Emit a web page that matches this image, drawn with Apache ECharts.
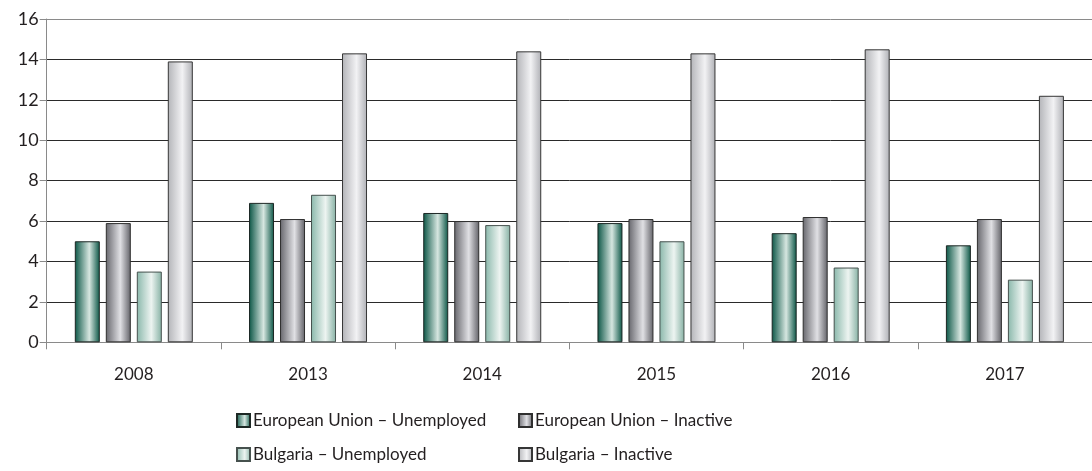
<!DOCTYPE html>
<html>
<head>
<meta charset="utf-8">
<style>
  html, body { margin: 0; padding: 0; background: #fff; }
  #chart { width: 1092px; height: 471px; }
</style>
<script src="https://cdn.jsdelivr.net/npm/echarts@6/dist/echarts.min.js"></script>
</head>
<body>
<div id="chart"></div>
<script>
// Shares by year, in percent
const years = ['2008', '2013', '2014', '2015', '2016', '2017'];
const euUnemployed = [5.0, 6.9, 6.4, 5.9, 5.4, 4.8];
const euInactive = [5.9, 6.1, 6.0, 6.1, 6.2, 6.1];
const bgUnemployed = [3.5, 7.3, 5.8, 5.0, 3.7, 3.1];
const bgInactive = [13.9, 14.3, 14.4, 14.3, 14.5, 12.2];
const seriesNames = [
  'European Union – Unemployed',
  'European Union – Inactive',
  'Bulgaria – Unemployed',
  'Bulgaria – Inactive'
];

const FONT = 'Lato, "Open Sans", sans-serif';

// Cylinder-like horizontal shading for each bar
function shade(edge, light, edge2) {
  return {
    type: 'linear', x: 0, y: 0, x2: 1, y2: 0,
    colorStops: [
      { offset: 0, color: edge },
      { offset: 0.58, color: light },
      { offset: 1, color: edge2 }
    ]
  };
}

const fills = [
  shade('#0a5545', '#d6e6e0', '#0a5545'),
  shade('#66666c', '#e0e0e4', '#616167'),
  shade('#8ab8ab', '#edf4f1', '#86b1a4'),
  shade('#b3b4b8', '#f2f2f4', '#afb0b5')
];
const borders = ['#1c2724', '#2f2f2f', '#46514e', '#363636'];
const values = [euUnemployed, euInactive, bgUnemployed, bgInactive];

const chart = echarts.init(document.getElementById('chart'), null, { renderer: 'canvas' });

const legendPos = [
  { left: 236, top: 412 },
  { left: 518, top: 412 },
  { left: 236, top: 446 },
  { left: 518, top: 446 }
];

chart.setOption({
  animation: false,
  backgroundColor: '#ffffff',
  grid: { left: 46.7, right: -5, top: 19, bottom: 128.7, containLabel: false },
  legend: seriesNames.map((n, i) => ({
    data: [n],
    left: legendPos[i].left,
    top: legendPos[i].top,
    itemWidth: 13,
    itemHeight: 13,
    itemGap: 0,
    icon: 'rect',
    padding: 0,
    textStyle: { fontFamily: FONT, fontSize: 17, color: '#231f20', padding: [0, 0, 0, -2] }
  })),
  xAxis: {
    type: 'category',
    data: years,
    axisLine: { lineStyle: { color: '#8a8a8a', width: 1 } },
    axisTick: { show: true, length: 7, lineStyle: { color: '#8a8a8a' } },
    axisLabel: { fontFamily: FONT, fontSize: 17, color: '#231f20', margin: 24 }
  },
  yAxis: {
    type: 'value',
    min: 0, max: 16, interval: 2,
    axisLine: { show: true, lineStyle: { color: '#8a8a8a' } },
    axisTick: { show: true, length: 7, lineStyle: { color: '#8a8a8a' } },
    axisLabel: { fontFamily: FONT, fontSize: 18, color: '#231f20', margin: 8 },
    splitLine: {
      show: true,
      lineStyle: {
        color: ['#8a8a8a', '#2a2a2a', '#2a2a2a', '#2a2a2a', '#2a2a2a', '#2a2a2a', '#2a2a2a', '#2a2a2a', '#8a8a8a'],
        width: 1
      }
    }
  },
  series: values.map((v, i) => ({
    name: seriesNames[i],
    type: 'bar',
    data: v,
    barWidth: 25,
    barGap: '24%',
    itemStyle: { color: fills[i], borderColor: borders[i], borderWidth: 1 }
  }))
});
</script>
</body>
</html>
